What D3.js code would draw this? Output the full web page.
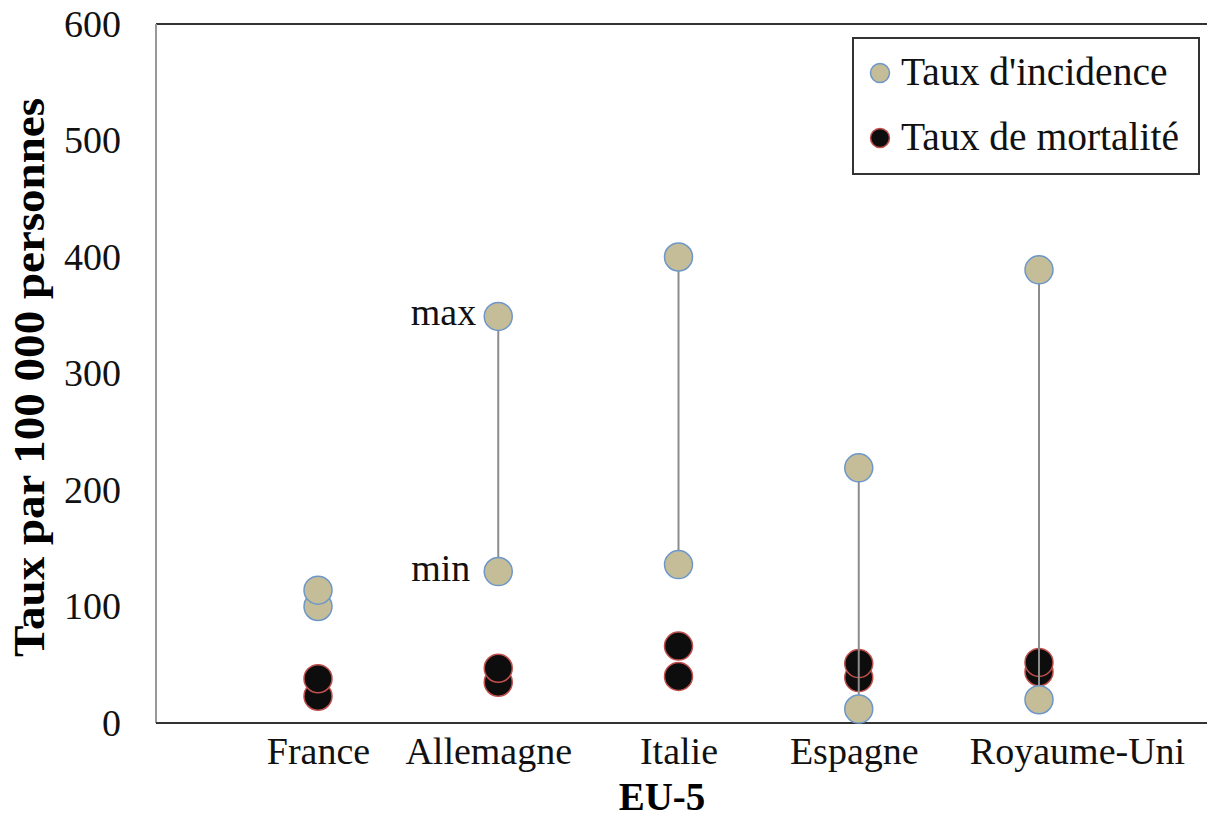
<!DOCTYPE html>
<html><head><meta charset="utf-8">
<script src="https://cdn.jsdelivr.net/npm/d3@7/dist/d3.min.js"></script>
<style>body{margin:0;background:#fff}svg{display:block}text{font-family:"Liberation Serif","Times New Roman",serif}</style>
</head><body>
<svg id="c" width="1207" height="822"></svg>
<script>
const categories = ["France","Allemagne","Italie","Espagne","Royaume-Uni"];
const incidenceMax = [114,349,400,219,389];
const incidenceMin = [100,130,136,12,20];
const mortalityHigh = [38,47,66,51,52];
const mortalityLow = [23,35,40,39,44];
const yTicks = [0,100,200,300,400,500,600];
const seriesNames = ["Taux d'incidence","Taux de mortalité"];
const labelDx = [0,-10,0,-5,38];

const svg = d3.select("#c");
const L = 156, R = 1207, T = 24, B = 723;
const y = d3.scaleLinear().domain([0,600]).range([B,T]);
const x = d3.scalePoint().domain(categories).range([318,1039]);

const incColor = "#c4bd97", incStroke = "#6d97c9";
const morColor = "#0d0d0d", morStroke = "#c0504d";

// frame
svg.append("line").attr("x1",L).attr("x2",R).attr("y1",T).attr("y2",T).attr("stroke","#333").attr("stroke-width",2);
svg.append("line").attr("x1",L).attr("x2",L).attr("y1",T).attr("y2",B).attr("stroke","#999").attr("stroke-width",2);

// y axis
const yAxis = d3.axisLeft(y).tickValues(yTicks).tickSize(0).tickPadding(35);
const gy = svg.append("g").attr("transform",`translate(${L},0)`).call(yAxis);
gy.select(".domain").remove();
gy.selectAll("text").attr("font-size",38).attr("fill","#111").style("font-family","Liberation Serif");

// x axis
const xAxis = d3.axisBottom(x).tickSize(0).tickPadding(14);
const gx = svg.append("g").attr("transform",`translate(0,${B})`).call(xAxis);
gx.select(".domain").remove();
gx.selectAll("text").attr("font-size",38).attr("fill","#111").style("font-family","Liberation Serif")
  .attr("dx",(d,i)=>labelDx[i]);
svg.append("line").attr("x1",L).attr("x2",R).attr("y1",B).attr("y2",B).attr("stroke","#333").attr("stroke-width",2);

// titles
svg.append("text").attr("transform",`translate(44,${(98+657)/2}) rotate(-90)`).attr("text-anchor","middle")
  .attr("font-size",44).attr("font-weight","bold").attr("fill","#000")
  .attr("textLength",559).attr("lengthAdjust","spacingAndGlyphs")
  .text("Taux  par 100 000 personnes");
svg.append("text").attr("x",662).attr("y",810).attr("text-anchor","middle")
  .attr("font-size",39).attr("font-weight","bold").attr("fill","#000").text("EU-5");

const r = 14;
// mortality
const mort = categories.map((c,i)=>[{c,v:mortalityLow[i]},{c,v:mortalityHigh[i]}]).flat();
svg.append("g").selectAll("circle").data(mort).join("circle")
  .attr("cx",d=>x(d.c)).attr("cy",d=>y(d.v)).attr("r",r)
  .attr("fill",morColor).attr("stroke",morStroke).attr("stroke-width",1.5);

// range lines
const rng = categories.map((c,i)=>({c,max:incidenceMax[i],min:incidenceMin[i]})).filter(d=>d.c!=="France");
svg.append("g").selectAll("line").data(rng).join("line")
  .attr("x1",d=>x(d.c)).attr("x2",d=>x(d.c)).attr("y1",d=>y(d.max)).attr("y2",d=>y(d.min))
  .attr("stroke","#8c8c8c").attr("stroke-width",2);

// incidence
const inc = categories.map((c,i)=>[{c,v:incidenceMin[i]},{c,v:incidenceMax[i]}]).flat();
svg.append("g").selectAll("circle").data(inc).join("circle")
  .attr("cx",d=>x(d.c)).attr("cy",d=>y(d.v)).attr("r",r)
  .attr("fill",incColor).attr("stroke",incStroke).attr("stroke-width",1.5);

// max / min annotations
svg.append("text").attr("x",x("Allemagne")-22).attr("y",y(incidenceMax[1])+9).attr("text-anchor","end")
  .attr("font-size",38).attr("fill","#111").text("max");
svg.append("text").attr("x",x("Allemagne")-28).attr("y",y(incidenceMin[1])+9).attr("text-anchor","end")
  .attr("font-size",38).attr("fill","#111").text("min");

// legend
const lg = svg.append("g");
lg.append("rect").attr("x",853).attr("y",38).attr("width",346).attr("height",136)
  .attr("fill","#fff").attr("stroke","#333").attr("stroke-width",2);
const lItems = [{n:seriesNames[0],f:incColor,s:incStroke},{n:seriesNames[1],f:morColor,s:morStroke}];
lItems.forEach((d,i)=>{
  const cy = 73 + i*65;
  lg.append("circle").attr("cx",880).attr("cy",cy).attr("r",9.5).attr("fill",d.f).attr("stroke",d.s).attr("stroke-width",1.5);
  lg.append("text").attr("x",901).attr("y",cy+12).attr("font-size",39.5).attr("fill","#111").text(d.n);
});
</script>
</body></html>
